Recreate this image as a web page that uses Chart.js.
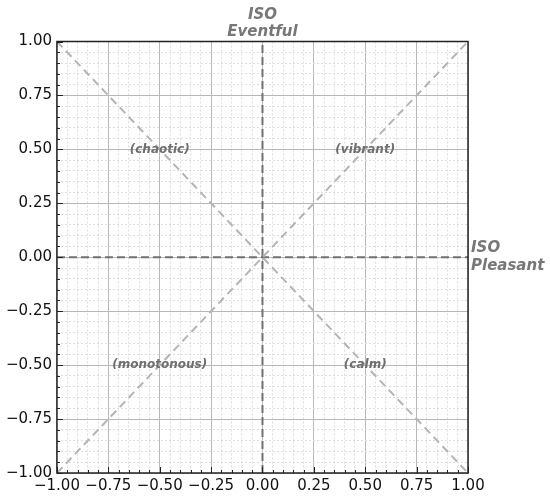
<!DOCTYPE html>
<html>
<head>
<meta charset="utf-8">
<script src="https://cdn.jsdelivr.net/npm/chart.js@4"></script>
<style>
    html, body { margin: 0; padding: 0; background: #fff; }
    #wrap { width: 550px; height: 497px; }
</style>
</head>
<body>
<div id="wrap"><canvas id="circumplex"></canvas></div>
<script>
// axis range and tick spacing
const axisMin = -1;
const axisMax = 1;
const majorStep = 0.25;
const minorStep = 0.05;

// reference lines through the origin
const pleasantLine = [[-1, 0], [1, 0]];
const eventfulLine = [[0, -1], [0, 1]];
const diagonalUp = [[-1, -1], [1, 1]];
const diagonalDown = [[-1, 1], [1, -1]];

// quadrant names and where they sit
const quadrantNames = ['(chaotic)', '(vibrant)', '(monotonous)', '(calm)'];
const quadrantX = [-0.5, 0.5, -0.5, 0.5];
const quadrantY = [0.5, 0.5, -0.5, -0.5];

const topTitle = ['ISO', 'Eventful'];
const rightTitle = ['ISO', 'Pleasant'];

const FONT = '"DejaVu Sans", sans-serif';

function isMajor(v) {
    return Math.round(v * 100) % Math.round(majorStep * 100) === 0;
}

function toPoints(pairs) {
    return pairs.map(p => ({ x: p[0], y: p[1] }));
}

function fmt(v) {
    if (!isMajor(v)) return '';
    const s = Math.abs(v).toFixed(2);
    return v < -1e-9 ? '\u2212' + s : s;
}

// inward ticks, frame and text labels
const frameAndText = {
    id: 'frameAndText',
    afterDatasetsDraw(chart) {
        const { ctx, chartArea: a, scales: { x, y } } = chart;
        ctx.save();

        ctx.strokeStyle = '#222';
        ctx.lineWidth = 1;
        x.ticks.forEach(t => {
            const px = Math.round(x.getPixelForValue(t.value)) + 0.5;
            const len = isMajor(t.value) ? 6 : 3;
            ctx.beginPath();
            ctx.moveTo(px, a.bottom);
            ctx.lineTo(px, a.bottom - len);
            ctx.stroke();
        });
        y.ticks.forEach(t => {
            const py = Math.round(y.getPixelForValue(t.value)) + 0.5;
            const len = isMajor(t.value) ? 6 : 3;
            ctx.beginPath();
            ctx.moveTo(a.left, py);
            ctx.lineTo(a.left + len, py);
            ctx.stroke();
        });

        ctx.lineWidth = 1.5;
        ctx.strokeRect(a.left, a.top, a.right - a.left, a.bottom - a.top);

        ctx.fillStyle = '#6e6e6e';
        ctx.font = 'italic bold 12px ' + FONT;
        ctx.textAlign = 'center';
        ctx.textBaseline = 'middle';
        quadrantNames.forEach((name, i) => {
            ctx.fillText(name, x.getPixelForValue(quadrantX[i]), y.getPixelForValue(quadrantY[i]));
        });

        ctx.fillStyle = '#777';
        ctx.font = 'italic bold 15px ' + FONT;
        ctx.textAlign = 'left';
        const y0 = y.getPixelForValue(0);
        ctx.fillText(rightTitle[0], a.right + 3, y0 - 9);
        ctx.fillText(rightTitle[1], a.right + 3, y0 + 9);

        ctx.restore();
    }
};

const gridColor = c => (c.tick && isMajor(c.tick.value)) ? '#b8b8b8' : '#dedede';
const gridDash = c => (c.tick && !isMajor(c.tick.value)) ? [2, 2] : [];

function axis(position, padding) {
    return {
        type: 'linear',
        position: position,
        min: axisMin,
        max: axisMax,
        grid: {
            color: gridColor,
            lineWidth: 1,
            drawTicks: false
        },
        border: { display: false, dash: gridDash },
        ticks: {
            stepSize: minorStep,
            maxTicksLimit: 100,
            autoSkip: false,
            maxRotation: 0,
            minRotation: 0,
            padding: padding,
            color: '#111',
            font: { family: FONT, size: 15 },
            callback: v => fmt(v)
        }
    };
}

function refLine(pairs, color, dash) {
    return {
        data: toPoints(pairs),
        showLine: true,
        borderColor: color,
        borderWidth: 2,
        borderDash: dash,
        pointRadius: 0,
        fill: false
    };
}

new Chart(document.getElementById('circumplex'), {
    type: 'scatter',
    data: {
        datasets: [
            refLine(diagonalUp, '#b4b4b4', [8, 5]),
            refLine(diagonalDown, '#b4b4b4', [8, 5]),
            refLine(pleasantLine, '#707070', [8, 4]),
            refLine(eventfulLine, '#707070', [8, 4])
        ]
    },
    options: {
        responsive: true,
        maintainAspectRatio: false,
        animation: false,
        layout: { padding: { left: 1, right: 82, top: 0, bottom: -2 } },
        plugins: {
            legend: { display: false },
            tooltip: { enabled: false },
            title: {
                display: true,
                text: topTitle,
                fullSize: false,
                color: '#777',
                font: { family: FONT, size: 15, weight: 'bold', style: 'italic', lineHeight: 1.15 },
                padding: { top: 6, bottom: 1 }
            }
        },
        scales: {
            x: axis('bottom', 4),
            y: axis('left', 5)
        }
    },
    plugins: [frameAndText]
});
</script>
</body>
</html>
